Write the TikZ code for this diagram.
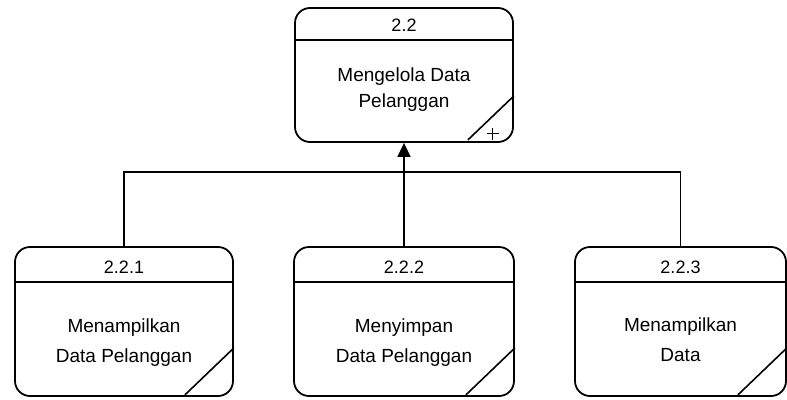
\documentclass[tikz,border=0pt]{standalone}
\usepackage{fontspec}
\setmainfont{Liberation Sans}
\usetikzlibrary{arrows.meta,calc}
\begin{document}
\begin{tikzpicture}[x=1pt,y=-1pt,
  proc/.style={draw,line width=1.8pt,rounded corners=15pt,inner sep=0pt,minimum height=149pt},
  divline/.style={line width=1.8pt},
  diag/.style={line width=1.6pt},
  conn/.style={line width=1.5pt},
  ttl/.style={font=\fontsize{18}{20}\selectfont,inner sep=0pt},
  txt/.style={font=\fontsize{19}{30}\selectfont,align=center,inner sep=0pt}]
\useasboundingbox (0,0) rectangle (787,399);
% boxes
\node[proc,minimum width=218pt,minimum height=134pt] (top) at (404,75) {};
\node[proc,minimum width=218pt] (b1) at (124,321.5) {};
\node[proc,minimum width=220pt] (b2) at (404,321.5) {};
\node[proc,minimum width=211pt] (b3) at (680.5,321.5) {};
% dividers
\draw[divline] (top.west |- 0,40) -- (top.east |- 0,40);
\foreach \b in {b1,b2,b3}{\draw[divline] (\b.west |- 0,282) -- (\b.east |- 0,282);}
% diagonals
\draw[diag] ($(top.south east)+(-46,-3)$) -- ($(top.south east)+(0,-47)$);
\foreach \b in {b1,b2,b3}{\draw[diag] ($(\b.south east)+(-49,-2)$) -- ($(\b.south east)+(0,-49)$);}
\draw[line width=0.9pt] ($(top.south east)+(-27,-9)$) -- ($(top.south east)+(-15,-9)$);
\draw[line width=0.9pt] ($(top.south east)+(-21,-15)$) -- ($(top.south east)+(-21,-3)$);
% titles
\node[ttl] (t0) at (404,25) {2.2};
\node[ttl] (t1) at (124,267) {2.2.1};
\node[ttl] (t2) at (404,267) {2.2.2};
\node[ttl] (t3) at (680.5,267) {2.2.3};
% texts
\node[txt,font=\fontsize{19}{26}\selectfont] (x0) at (404,90) {Mengelola Data\\Pelanggan};
\node[txt] (x1) at (124,343) {Menampilkan\\Data Pelanggan};
\node[txt] (x2) at (404,343) {Menyimpan\\Data Pelanggan};
\node[txt] (x3) at (680.5,340) {Menampilkan\\Data};
% connectors
\coordinate (j) at (404,172);
\draw[conn] (b1.north) |- (j) -| (b3.north);
\draw[conn,-{Triangle[length=14pt,width=13pt]}] (b2.north) -- (top.south);
\end{tikzpicture}
\end{document}
